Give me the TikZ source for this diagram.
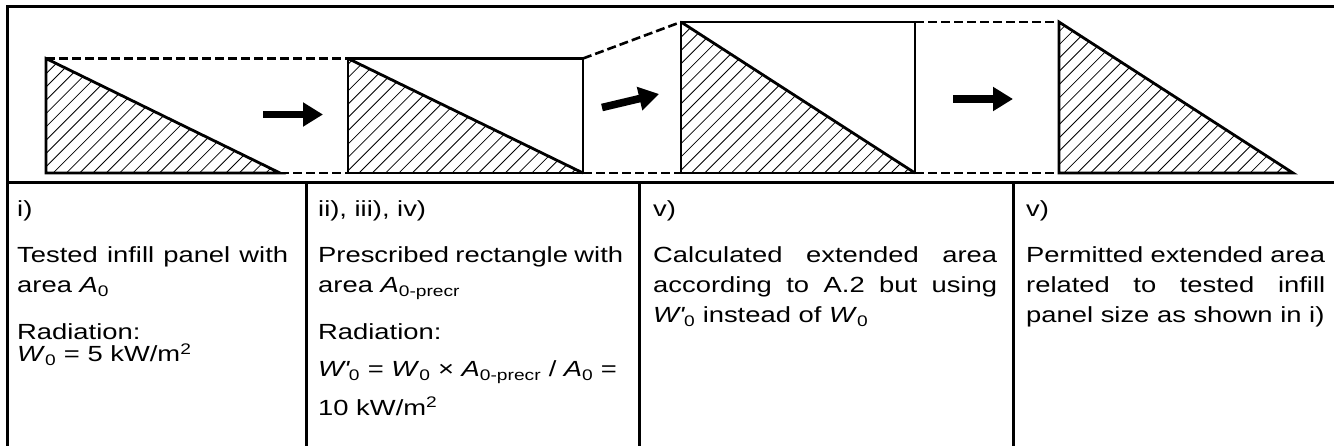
\documentclass[tikz,border=0pt]{standalone}
\usepackage{fontspec}
\setmainfont{Liberation Sans}[FakeStretch=1.25]
\usetikzlibrary{arrows.meta}
\newcommand{\sbs}[1]{\textsubscript{#1}}
\newcommand{\sps}[1]{\textsuperscript{#1}}
\newcommand{\Wp}{\textit{W\textquotesingle}}
\begin{document}
\begin{tikzpicture}[x=1pt,y=-1pt,
  frame/.style={line width=3pt},
  shapeln/.style={line width=2.8pt, line join=miter},
  dashln/.style={line width=2.6pt, dash pattern=on 9pt off 4pt},
  hatch/.style={line width=0.8pt},
  blockarrow/.style={line width=7.6pt, -{Triangle[length=20pt,width=23pt]}},
  txt/.style={anchor=base west, inner sep=0pt, font=\fontsize{21.9}{26}\selectfont}]
\useasboundingbox (0,0) rectangle (1334,446);

% table frame
\draw[frame] (7,446) -- (7,7) -- (1334,7);
\draw[frame] (7,183) -- (1334,183);
\draw[frame] (306,183) -- (306,446);
\draw[frame] (639,183) -- (639,446);
\draw[frame] (1013,183) -- (1013,446);

% shape corners
\coordinate (t1a) at (46,58.5);
\coordinate (t1b) at (46,173);
\coordinate (t1c) at (280,173);
\coordinate (r2a) at (348,58.5);
\coordinate (r2b) at (583,58.5);
\coordinate (r2c) at (583,173);
\coordinate (r2d) at (348,173);
\coordinate (r3a) at (681,22);
\coordinate (r3b) at (915,22);
\coordinate (r3c) at (915,173);
\coordinate (r3d) at (681,173);
\coordinate (t4a) at (1059,22);
\coordinate (t4b) at (1059,173);
\coordinate (t4c) at (1293,173);

% hatching
\begin{scope}
  \clip (t1a) -- (t1b) -- (t1c) -- cycle;
  \foreach \c in {0,13.3,...,1500} \draw[hatch] (\c,0) -- (\c-300,300);
\end{scope}
\begin{scope}
  \clip (r2a) -- (r2d) -- (r2c) -- cycle;
  \foreach \c in {0,13.3,...,1500} \draw[hatch] (\c,0) -- (\c-300,300);
\end{scope}
\begin{scope}
  \clip (r3a) -- (r3d) -- (r3c) -- cycle;
  \foreach \c in {0,13.3,...,1500} \draw[hatch] (\c,0) -- (\c-300,300);
\end{scope}
\begin{scope}
  \clip (t4a) -- (t4b) -- (t4c) -- cycle;
  \foreach \c in {0,13.3,...,1500} \draw[hatch] (\c,0) -- (\c-300,300);
\end{scope}

% outlines
\draw[shapeln] (t1a) -- (t1b) -- (t1c) -- cycle;
\draw[shapeln] (r2a) rectangle (r2c);
\draw[shapeln] (r2a) -- (r2c);
\draw[shapeln] (r3a) rectangle (r3c);
\draw[shapeln] (r3a) -- (r3c);
\draw[shapeln] (t4a) -- (t4b) -- (t4c) -- cycle;

% dashed connectors
\draw[dashln] (t1a) -- (r2a);
\draw[dashln] (t1c) -- (r2d);
\draw[dashln] (r2b) -- (r3a);
\draw[dashln] (r2c) -- (r3d);
\draw[dashln] (r3b) -- (t4a);
\draw[dashln] (r3c) -- (t4b);

% arrows
\coordinate (a1s) at (263,114.5);
\coordinate (a1e) at (323,114.5);
\coordinate (a2s) at (602,107.5);
\coordinate (a2e) at (659,94);
\coordinate (a3s) at (953,99);
\coordinate (a3e) at (1013,99);
\draw[blockarrow] (a1s) -- (a1e);
\draw[blockarrow] (a2s) -- (a2e);
\draw[blockarrow] (a3s) -- (a3e);

% column 1
\node[txt] (c1a) at (17,216.5) {i)};
\node[txt] (c1b) at (17,263) {\makebox[271pt][s]{Tested infill panel with}};
\node[txt] (c1c) at (17,293) {area \textit{A}\sbs{0}};
\node[txt] (c1d) at (17,340) {Radiation:};
\node[txt] (c1e) at (17,362) {\textit{W}\sbs{0} = 5 kW/m\sps{2}};

% column 2
\node[txt] (c2a) at (318,216.5) {ii), iii), iv)};
\node[txt] (c2b) at (318,263) {\makebox[305pt][s]{Prescribed rectangle with}};
\node[txt] (c2c) at (318,293) {area \textit{A}\sbs{0-precr}};
\node[txt] (c2d) at (318,340) {Radiation:};
\node[txt] (c2e) at (318,377) {\Wp\sbs{0} = \textit{W}\sbs{0} × \textit{A}\sbs{0-precr} / \textit{A}\sbs{0} =};
\node[txt] (c2f) at (318,415) {10 kW/m\sps{2}};

% column 3
\node[txt] (c3a) at (653,216.5) {v)};
\node[txt] (c3b) at (653,263) {\makebox[344pt][s]{Calculated extended area}};
\node[txt] (c3c) at (653,293) {\makebox[344pt][s]{according to A.2 but using}};
\node[txt] (c3d) at (653,323) {\Wp\sbs{0} instead of \textit{W}\sbs{0}};

% column 4
\node[txt] (c4a) at (1026,216.5) {v)};
\node[txt] (c4b) at (1026,263) {\makebox[299pt][s]{Permitted extended area}};
\node[txt] (c4c) at (1026,293) {\makebox[299pt][s]{related to tested infill}};
\node[txt] (c4d) at (1026,323) {panel size as shown in i)};
\end{tikzpicture}
\end{document}
